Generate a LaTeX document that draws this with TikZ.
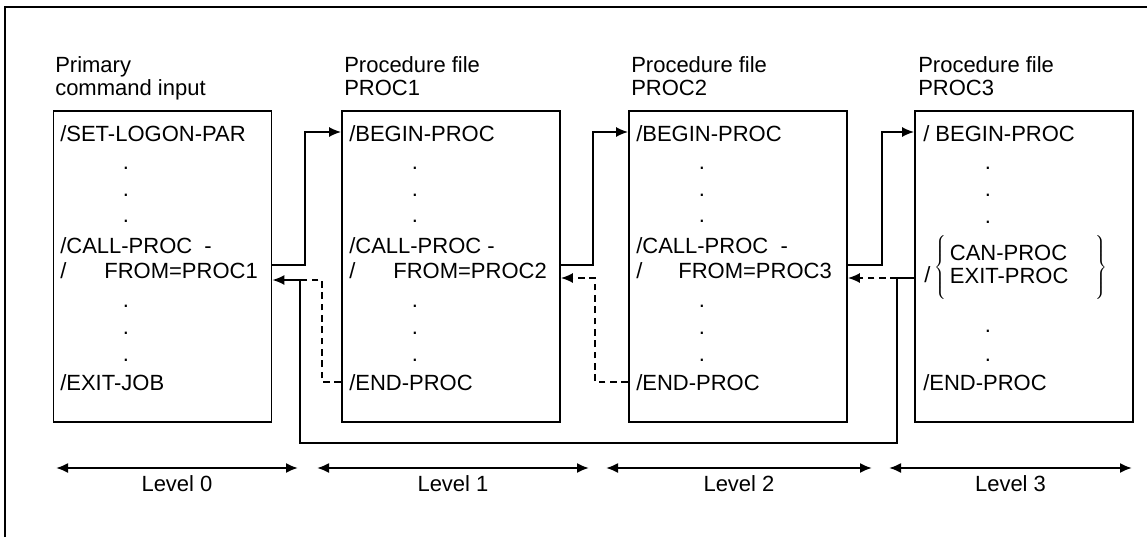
\documentclass[tikz,border=0pt]{standalone}
\usepackage{fontspec}
\setmainfont{Liberation Sans}
\usetikzlibrary{arrows.meta,positioning}
\tikzset{
    box/.style={draw, line width=1.3pt, minimum width=218*0.75pt, minimum height=311*0.75pt, inner sep=0pt},
    txt/.style={anchor=base west, inner sep=0pt, font=\fontsize{16.5}{17.25}\selectfont},
    head/.style={anchor=north west, align=left, inner sep=0pt, font=\fontsize{16.5}{17.25}\selectfont},
    pt/.style={anchor=base, inner sep=0pt, font=\fontsize{16.5}{17.25}\selectfont},
    call/.style={line width=1.3pt, -{Latex[length=9pt,width=7.5pt]}},
    back/.style={call, dash pattern=on 5pt off 3.5pt},
    span/.style={line width=1.5pt, {Latex[length=9pt,width=7.5pt]}-{Latex[length=9pt,width=7.5pt]}},
    lab/.style={below=5pt, inner sep=0pt, font=\fontsize{16.5}{17.25}\selectfont}
}
\begin{document}
\begin{tikzpicture}[x=0.75pt, y=-0.75pt]
    \useasboundingbox (0,0) rectangle (1147,537);
    \draw[line width=1.5pt] (5,537) -- (5,7) -- (1147,7);
    % the four input levels
    \node[box] (b0) at (162.5,266.5) {};
    \node[box] (b1) at (451,266.5) {};
    \node[box] (b2) at (738,266.5) {};
    \node[box] (b3) at (1024,266.5) {};
    \node[head] (h0) at (55,56) {Primary\\command input};
    \node[head] (h1) at (344,56) {Procedure file\\PROC1};
    \node[head] (h2) at (631,56) {Procedure file\\PROC2};
    \node[head] (h3) at (918,56) {Procedure file\\PROC3};
    % level 0
    \node[txt] (set0) at (60,141) {/SET-LOGON-PAR};
    \node[pt] at (126,169) {.};
    \node[pt] at (126,196) {.};
    \node[pt] at (126,222) {.};
    \node[txt] (call0) at (60,253) {/CALL-PROC\ \ -};
    \node[txt] (from0) at (60,278) {/\hspace{28.5pt}FROM=PROC1};
    \node[pt] at (126,307) {.};
    \node[pt] at (126,334) {.};
    \node[pt] at (126,361) {.};
    \node[txt] (exit0) at (60,390) {/EXIT-JOB};
    % level 1
    \node[txt] (begin1) at (349,141) {/BEGIN-PROC};
    \node[pt] at (415,169) {.};
    \node[pt] at (415,196) {.};
    \node[pt] at (415,222) {.};
    \node[txt] (call1) at (349,253) {/CALL-PROC -};
    \node[txt] (from1) at (349,278) {/\hspace{28.5pt}FROM=PROC2};
    \node[pt] at (415,307) {.};
    \node[pt] at (415,334) {.};
    \node[pt] at (415,361) {.};
    \node[txt] (end1) at (349,390) {/END-PROC};
    % level 2
    \node[txt] (begin2) at (636,141) {/BEGIN-PROC};
    \node[pt] at (702,169) {.};
    \node[pt] at (702,196) {.};
    \node[pt] at (702,222) {.};
    \node[txt] (call2) at (636,253) {/CALL-PROC\ \ -};
    \node[txt] (from2) at (636,278) {/\hspace{27pt}FROM=PROC3};
    \node[pt] at (702,307) {.};
    \node[pt] at (702,334) {.};
    \node[pt] at (702,361) {.};
    \node[txt] (end2) at (636,390) {/END-PROC};
    % level 3
    \node[txt] (begin3) at (923,141) {/ BEGIN-PROC};
    \node[pt] at (988,169) {.};
    \node[pt] at (988,196) {.};
    \node[pt] at (988,223) {.};
    \node[txt, anchor=west] (quit3) at (924,268) {\raisebox{-6.4pt}{/}\hspace{3pt}$\left\{\vrule height 24pt depth 20pt width 0pt\mbox{\begin{tabular}{@{\,}l@{\hspace{20pt}}}CAN-PROC\\EXIT-PROC\end{tabular}}\right\}$};
    \node[pt] at (988,332) {.};
    \node[pt] at (988,361) {.};
    \node[txt] (end3) at (923,390) {/END-PROC};
    % bends
    \coordinate (j0) at (305,132);
    \coordinate (j1) at (593,132);
    \coordinate (j2) at (882,132);
    \coordinate (r0) at (322,382);
    \coordinate (r1) at (595,382);
    \coordinate (r1t) at (595,278);
    \coordinate (k) at (897,278);
    \coordinate (kb) at (897,443);
    \coordinate (kc) at (300,443);
    \coordinate (kd) at (300,280);
    \draw[call] (b0.east |- 0,265) -| (j0) -- (j0 -| b1.west);
    \draw[call] (b1.east |- 0,265) -| (j1) -- (j1 -| b2.west);
    \draw[call] (b2.east |- 0,265) -| (j2) -- (j2 -| b3.west);
    \draw[back, -] (b1.west |- r0) -| (r0 |- kd) -- (kd);
    \draw[back] (b2.west |- r1) -| (r1t) -- (r1t -| b1.east);
    \draw[back] (k) -- (k -| b2.east);
    \draw[call] (b3.west |- k) -- (k) -- (kb) -- (kc) -- (kd) -- (kd -| b0.east);
    % levels
    \coordinate (l0a) at (56,468);
    \coordinate (l0b) at (298,468);
    \coordinate (l1a) at (317,468);
    \coordinate (l1b) at (589,468);
    \coordinate (l2a) at (606,468);
    \coordinate (l2b) at (872,468);
    \coordinate (l3a) at (889,468);
    \coordinate (l3b) at (1132,468);
    \draw[span] (l0a) -- node[lab] (lv0) {Level 0} (l0b);
    \draw[span] (l1a) -- node[lab] (lv1) {Level 1} (l1b);
    \draw[span] (l2a) -- node[lab] (lv2) {Level 2} (l2b);
    \draw[span] (l3a) -- node[lab] (lv3) {Level 3} (l3b);
\end{tikzpicture}
\end{document}
